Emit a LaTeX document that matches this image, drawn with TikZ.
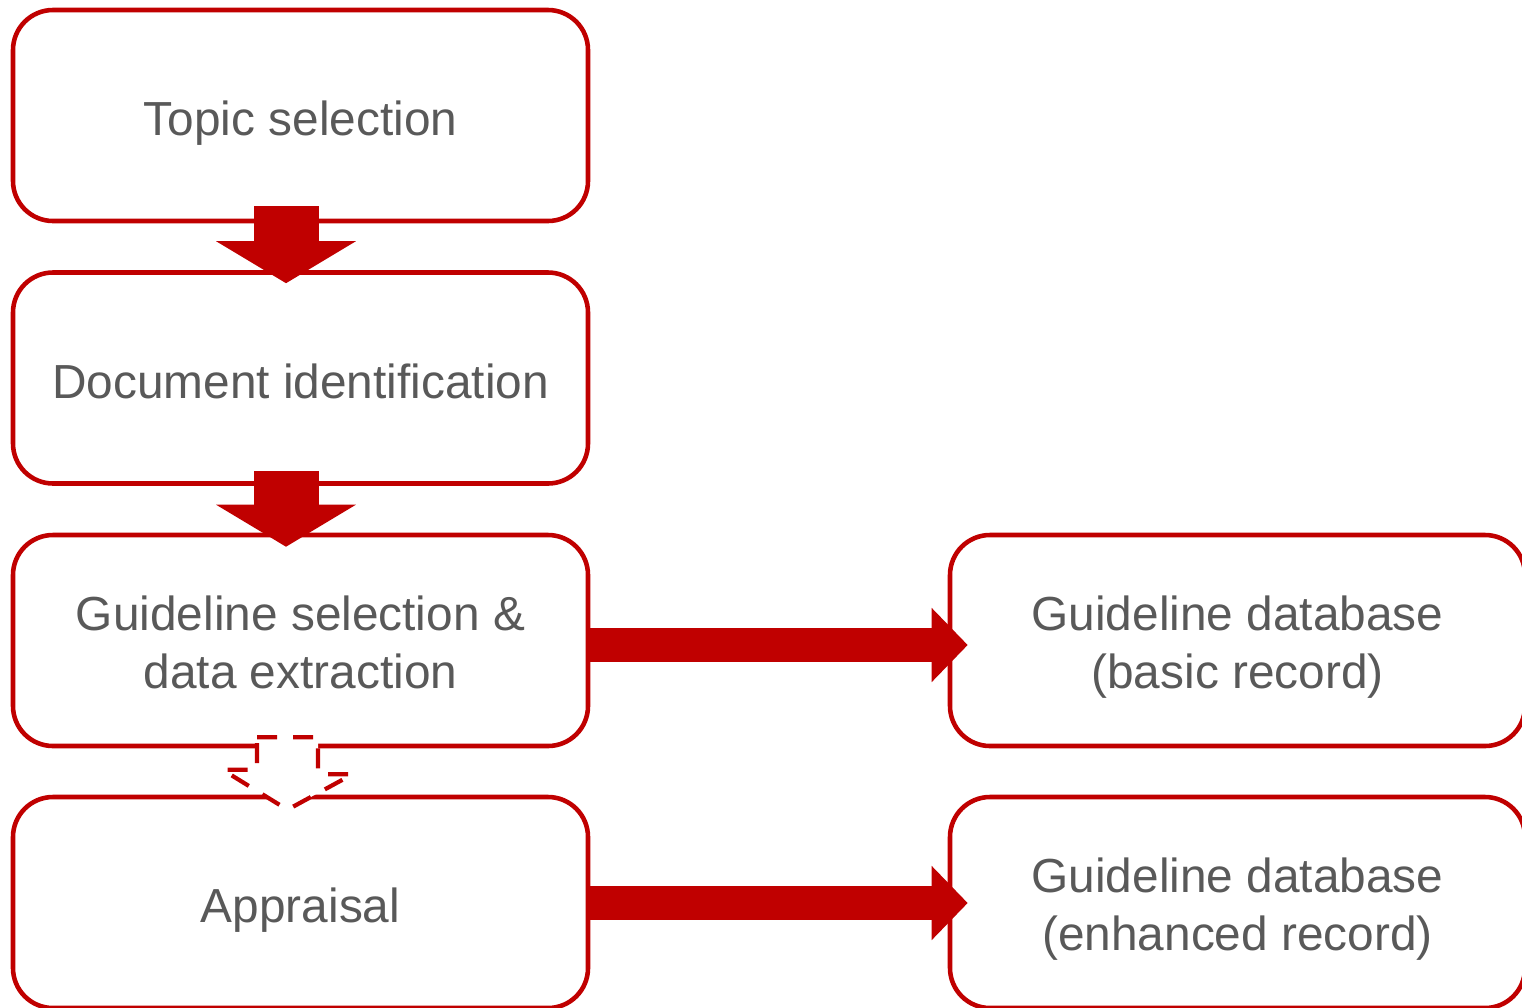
\documentclass[tikz,border=0pt]{standalone}
\usepackage{fontspec}
\setmainfont{Liberation Sans}
\usetikzlibrary{calc, arrows.meta}
\definecolor{boxred}{HTML}{C00000}
\definecolor{textgray}{HTML}{595959}

\begin{document}
\begin{tikzpicture}[
    box/.style={draw=boxred, line width=1.3pt, rounded corners=0.4cm, fill=white,
        minimum width=5.75cm, minimum height=2.11cm, align=center, text=textgray,
        font=\fontsize{13.6}{16.5}\selectfont},
    oneline/.style={text height=11.4pt, text depth=0pt},
    twoline/.style={text height=27.2pt, text depth=0pt},
    downarrow/.style={draw=boxred, line width=0.65cm, -{Triangle[width=1.38cm, length=0.42cm]}},
    rightarrow/.style={draw=boxred, line width=0.34cm, -{Triangle[width=0.72cm, length=0.36cm]}},
    dasharrow/.style={draw=boxred, fill=white, line width=1.2pt, dash pattern=on 0.2cm off 0.16cm}
]
    \useasboundingbox (0,0) rectangle (15.22,-10.07);

    \node[box, oneline] (topic) at (3.005,-1.155) {Topic selection};
    \node[box, oneline] (docid) at (3.005,-3.78) {Document identification};
    \node[box, twoline] (guidesel) at (3.005,-6.405) {Guideline selection \&\\ data extraction};
    \node[box, oneline] (appraisal) at (3.005,-9.025) {Appraisal};
    \node[box, twoline] (basicrec) at (12.375,-6.405) {Guideline database\\ (basic record)};
    \node[box, twoline] (enhrec) at (12.375,-9.025) {Guideline database\\ (enhanced record)};

    \draw[downarrow] ($(topic.south)+(-0.145,0.17)$) -- ($(docid.north)+(-0.145,-0.13)$);
    \draw[downarrow] ($(docid.south)+(-0.145,0.15)$) -- ($(guidesel.north)+(-0.145,-0.14)$);
    \draw[dasharrow] ($(guidesel.south)+(-0.435,0.11)$) -- ++(0.61,0) -- ++(0,-0.37) -- ++(0.345,0)
        -- ($(appraisal.north)+(-0.13,-0.15)$) -- ++(-0.65,0.40) -- ++(0.345,0) -- cycle;

    \draw[rightarrow] ($(guidesel.east)+(0,-0.045)$) -- ($(basicrec.west)+(0.2,-0.045)$);
    \draw[rightarrow] ($(appraisal.east)+(0,-0.005)$) -- ($(enhrec.west)+(0.2,-0.005)$);
\end{tikzpicture}
\end{document}
